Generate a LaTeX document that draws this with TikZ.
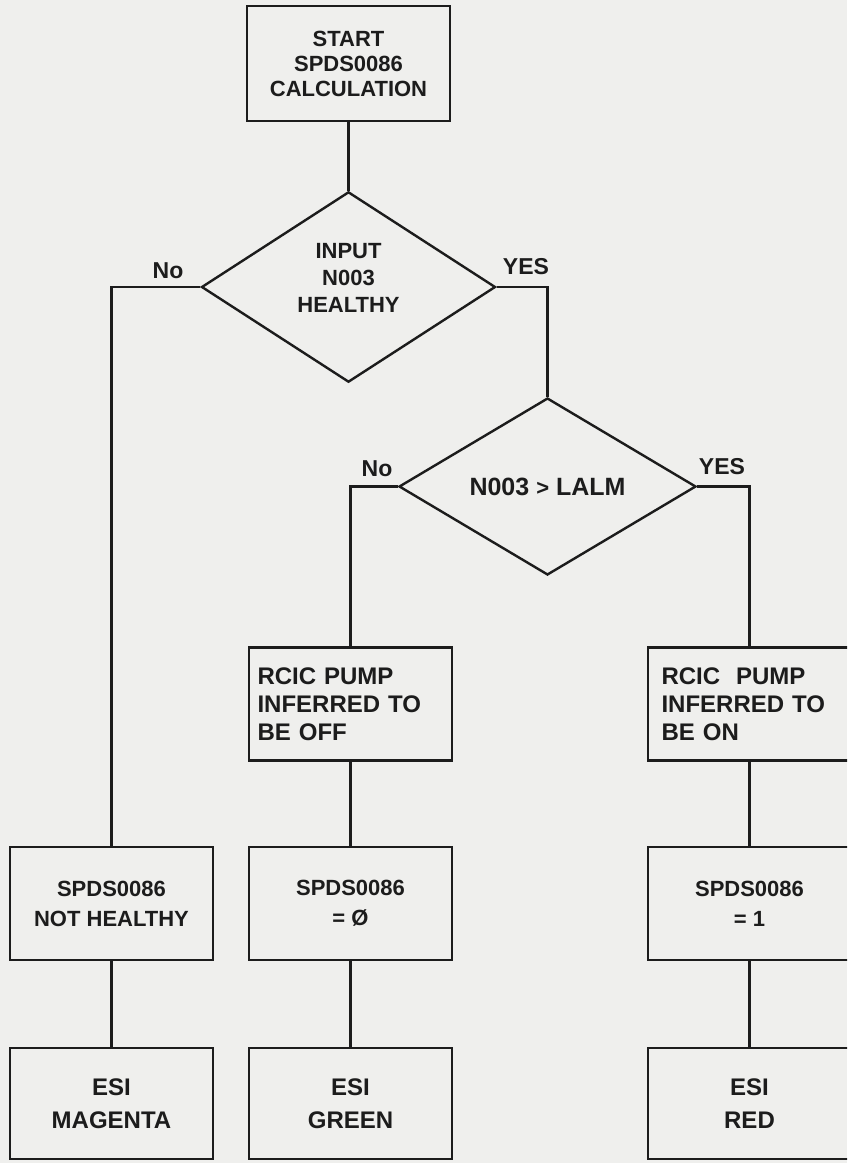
\documentclass[tikz,border=0pt]{standalone}
\usepackage{fontspec}
\setmainfont{Liberation Sans}
\usetikzlibrary{shapes.geometric}
\definecolor{paper}{RGB}{239,239,237}
\definecolor{ink}{RGB}{28,28,28}
\tikzset{
  box/.style={draw=ink, line width=2.4pt, minimum width=203pt, inner sep=0pt, align=center, text=ink},
  dec/.style={draw=ink, line width=2.4pt, diamond, inner sep=0pt, align=center, text=ink},
  conn/.style={draw=ink, line width=2.2pt},
  lbl/.style={text=ink, inner sep=0pt, font=\bfseries\fontsize{23}{27}\selectfont},
}
\begin{document}
\begin{tikzpicture}[x=1pt,y=-1pt]
\fill[paper] (0,0) rectangle (847,1163);
\useasboundingbox (0,0) rectangle (847,1163);
\clip (0,0) rectangle (847,1163);

% top box
\node[box, minimum height=115pt, font=\bfseries\fontsize{22}{25}\selectfont] (start) at (348.5,63.5) {START\\SPDS0086\\CALCULATION};

% decisions
\node[dec, minimum width=294pt, minimum height=175pt, font=\bfseries\fontsize{22}{27}\selectfont] (d1) at (348.5,287) {INPUT\\N003\\HEALTHY\\[-8pt]};
\node[dec, minimum width=297pt, minimum height=177pt, font=\bfseries\fontsize{25}{28}\selectfont] (d2) at (547.5,486.5) {N003 {\fontsize{22}{26}\selectfont >} LALM};

% RCIC boxes
\node[box, minimum height=113pt, text width=186pt, align=left, font=\bfseries\fontsize{24}{28}\selectfont] (off) at (350.5,704) {RCIC PUMP\\INFERRED TO\\BE OFF\\[-6pt]};
\node[box, minimum height=113pt, text width=176pt, align=left, font=\bfseries\fontsize{24}{28}\selectfont] (on) at (749.5,704) {RCIC\ \ PUMP\\INFERRED TO\\BE ON\\[-6pt]};

% row 3
\node[box, minimum height=113pt, font=\bfseries\fontsize{22}{30}\selectfont] (nh) at (111.5,903.5) {SPDS0086\\NOT HEALTHY};
\node[box, minimum height=113pt, font=\bfseries\fontsize{22}{30}\selectfont] (zero) at (350.5,903.5) {SPDS0086\\= Ø};
\node[box, minimum height=113pt, font=\bfseries\fontsize{22}{30}\selectfont] (one) at (749.5,903.5) {SPDS0086\\= 1};

% row 4
\node[box, minimum height=111pt, font=\bfseries\fontsize{24}{33}\selectfont] (mag) at (111.5,1103.5) {ESI\\MAGENTA};
\node[box, minimum height=111pt, font=\bfseries\fontsize{24}{33}\selectfont] (green) at (350.5,1103.5) {ESI\\GREEN};
\node[box, minimum height=111pt, font=\bfseries\fontsize{24}{33}\selectfont] (red) at (749.5,1103.5) {ESI\\RED};

% connectors
\draw[conn] (start.south) -- (d1.north);
\draw[conn] (d1.west) -| (nh.north);
\draw[conn] (d1.east) -| (d2.north);
\draw[conn] (d2.west) -| (off.north);
\draw[conn] (d2.east) -| (on.north);
\draw[conn] (off.south) -- (zero.north);
\draw[conn] (zero.south) -- (green.north);
\draw[conn] (nh.south) -- (mag.north);
\draw[conn] (on.south) -- (one.north);
\draw[conn] (one.south) -- (red.north);

% labels
\node[lbl] (no1) at (168,271) {No};
\node[lbl] (yes1) at (526,267) {YES};
\node[lbl] (no2) at (377,469) {No};
\node[lbl] (yes2) at (722,467) {YES};
\end{tikzpicture}
\end{document}
